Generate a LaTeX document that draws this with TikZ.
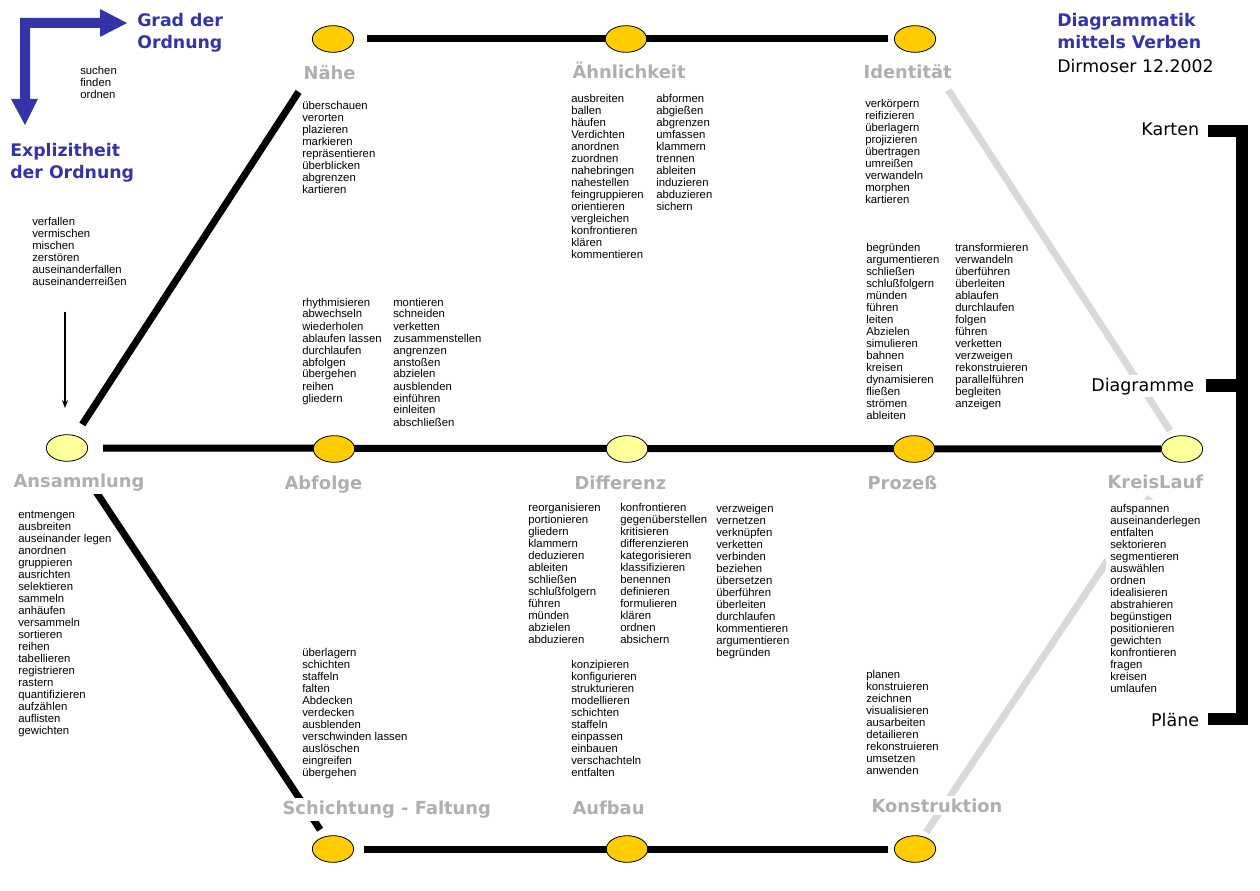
\documentclass[tikz,border=0pt]{standalone}
\usepackage{fontspec}
\setmainfont{Liberation Sans}
\newfontfamily\vfont{DejaVu Sans}
\usetikzlibrary{shapes.geometric,arrows.meta}
\pgfdeclarelayer{background}
\pgfsetlayers{background,main}
\definecolor{dblue}{RGB}{51,51,170}
\definecolor{lgray}{RGB}{175,175,175}
\definecolor{lngray}{RGB}{217,217,217}
\definecolor{gold}{RGB}{255,204,0}
\definecolor{paley}{RGB}{255,255,153}
\newcommand{\wl}[1]{\begin{tabular}[t]{@{}l@{}}#1\end{tabular}}
\begin{document}
\begin{tikzpicture}[x=0.75pt,y=-0.75pt,
  wlist/.style={anchor=base west, inner sep=0pt, font=\fontsize{8.5pt}{9pt}\selectfont},
  lab/.style={anchor=base west, font=\vfont\bfseries\fontsize{13.4pt}{15pt}\selectfont, text=lgray, fill=white, inner xsep=1pt, inner ysep=2pt},
  ttl/.style={anchor=base west, inner sep=0pt, font=\vfont\bfseries\fontsize{13pt}{16.5pt}\selectfont, text=dblue},
  rlab/.style={anchor=base east, inner xsep=2pt, inner ysep=2pt, fill=white, font=\vfont\fontsize{13.1pt}{15pt}\selectfont},
  stn/.style={ellipse, draw=black, line width=0.6pt, minimum width=31pt, minimum height=20pt, inner sep=0pt},
  bigline/.style={line width=5.25pt},
  grayline/.style={line width=5.25pt, draw=lngray}]
\path[use as bounding box] (0,0) rectangle (1260,891);

% stations
\node[stn,fill=gold] (nae) at (333,39) {};
\node[stn,fill=gold] (ahn) at (626,39) {};
\node[stn,fill=gold] (ide) at (915,39) {};
\node[stn,fill=paley] (ans) at (67,448) {};
\node[stn,fill=gold] (abf) at (334,449) {};
\node[stn,fill=paley] (dif) at (627,449) {};
\node[stn,fill=gold] (pro) at (914,449) {};
\node[stn,fill=paley] (kre) at (1182,449) {};
\node[stn,fill=gold] (sch) at (333,849) {};
\node[stn,fill=gold] (auf) at (627,849) {};
\node[stn,fill=gold] (kon) at (915,849) {};

% station labels
\node[lab] (lnae) at (302,80) {Nähe};
\node[lab] (lahn) at (571,79) {Ähnlichkeit};
\node[lab] (lide) at (862,79) {Identität};
\node[lab] (lans) at (12,487) {Ansammlung};
\node[lab] (labf) at (283,489) {Abfolge};
\node[lab] (ldif) at (573,489) {Differenz};
\node[lab] (lpro) at (866,489) {Prozeß};
\node[lab] (lkre) at (1106,488) {KreisLauf};
\node[lab] (lsch) at (281,814) {Schichtung - Faltung};
\node[lab] (lauf) at (571,814) {Aufbau};
\node[lab] (lkon) at (870,812) {Konstruktion};

% titles
\node[ttl] (t1) at (137,27) {\wl{Grad der\\Ordnung}};
\node[ttl] (t2) at (10,157) {\wl{Explizitheit\\der Ordnung}};
\node[ttl] (t3) at (1057,27) {\wl{Diagrammatik\\mittels Verben}};
\node[anchor=base west, inner sep=0pt, font=\vfont\fontsize{13pt}{16.5pt}\selectfont] (t4) at (1057,73) {Dirmoser 12.2002};

% blue axis arrows
\fill[dblue] (20,18) -- (100,18) -- (100,9) -- (127,23) -- (100,37) -- (100,28) -- (30,28) -- (30,99) -- (38,99) -- (25,125) -- (11,99) -- (20,99) -- cycle;

% small arrow
\coordinate (sa1) at (65,312);
\coordinate (sa2) at (65,408);
\draw[line width=0.9pt, -{Stealth[length=6pt,width=4.5pt]}] (sa1) -- (sa2);

% word lists
\node[wlist] (w0) at (80,75) {\wl{suchen\\finden\\ordnen}};
\node[wlist] (w1) at (32,226) {\wl{verfallen\\vermischen\\mischen\\zerstören\\auseinanderfallen\\auseinanderreißen}};
\node[wlist] (w2) at (302,110) {\wl{überschauen\\verorten\\plazieren\\markieren\\repräsentieren\\überblicken\\abgrenzen\\kartieren}};
\node[wlist] (w3) at (571,103) {\wl{ausbreiten\\ballen\\häufen\\Verdichten\\anordnen\\zuordnen\\nahebringen\\nahestellen\\feingruppieren\\orientieren\\vergleichen\\konfrontieren\\klären\\kommentieren}};
\node[wlist] (w4) at (656,103) {\wl{abformen\\abgießen\\abgrenzen\\umfassen\\klammern\\trennen\\ableiten\\induzieren\\abduzieren\\sichern}};
\node[wlist] (w5) at (865,108) {\wl{verkörpern\\reifizieren\\überlagern\\projizieren\\übertragen\\umreißen\\verwandeln\\morphen\\kartieren}};
\node[wlist] (w6) at (866,252) {\wl{begründen\\argumentieren\\schließen\\schlußfolgern\\münden\\führen\\leiten\\Abzielen\\simulieren\\bahnen\\kreisen\\dynamisieren\\fließen\\strömen\\ableiten}};
\node[wlist] (w7) at (955,252) {\wl{transformieren\\verwandeln\\überführen\\überleiten\\ablaufen\\durchlaufen\\folgen\\führen\\verketten\\verzweigen\\rekonstruieren\\parallelführen\\begleiten\\anzeigen}};
\node[wlist] (w8) at (302,306) {\wl{rhythmisieren\\abwechseln\\wiederholen\\ablaufen lassen\\durchlaufen\\abfolgen\\übergehen\\reihen\\gliedern}};
\node[wlist] (w9) at (393,306) {\wl{montieren\\schneiden\\verketten\\zusammenstellen\\angrenzen\\anstoßen\\abzielen\\ausblenden\\einführen\\einleiten\\abschließen}};
\node[wlist] (w10) at (18,518) {\wl{entmengen\\ausbreiten\\auseinander legen\\anordnen\\gruppieren\\ausrichten\\selektieren\\sammeln\\anhäufen\\versammeln\\sortieren\\reihen\\tabellieren\\registrieren\\rastern\\quantifizieren\\aufzählen\\auflisten\\gewichten}};
\node[wlist] (w11) at (528,511) {\wl{reorganisieren\\portionieren\\gliedern\\klammern\\deduzieren\\ableiten\\schließen\\schlußfolgern\\führen\\münden\\abzielen\\abduzieren}};
\node[wlist] (w12) at (620,511) {\wl{konfrontieren\\gegenüberstellen\\kritisieren\\differenzieren\\kategorisieren\\klassifizieren\\benennen\\definieren\\formulieren\\klären\\ordnen\\absichern}};
\node[wlist] (w13) at (716,512) {\wl{verzweigen\\vernetzen\\verknüpfen\\verketten\\verbinden\\beziehen\\übersetzen\\überführen\\überleiten\\durchlaufen\\kommentieren\\argumentieren\\begründen}};
\node[wlist] (w14) at (302,656) {\wl{überlagern\\schichten\\staffeln\\falten\\Abdecken\\verdecken\\ausblenden\\verschwinden lassen\\auslöschen\\eingreifen\\übergehen}};
\node[wlist] (w15) at (571,668) {\wl{konzipieren\\konfigurieren\\strukturieren\\modellieren\\schichten\\staffeln\\einpassen\\einbauen\\verschachteln\\entfalten}};
\node[wlist] (w16) at (866,678) {\wl{planen\\konstruieren\\zeichnen\\visualisieren\\ausarbeiten\\detailieren\\rekonstruieren\\umsetzen\\anwenden}};
\node[wlist, fill=white, inner sep=3pt] (w17) at (1106,512) {\wl{aufspannen\\auseinanderlegen\\entfalten\\sektorieren\\segmentieren\\auswählen\\ordnen\\idealisieren\\abstrahieren\\begünstigen\\positionieren\\gewichten\\konfrontieren\\fragen\\kreisen\\umlaufen}};

% bracket
\fill[black] (1236,125) rectangle (1248,725);
\fill[black] (1208,125) rectangle (1248,137);
\fill[black] (1206,379) rectangle (1240,392);
\fill[black] (1208,713) rectangle (1248,725);
\node[rlab] (rk) at (1202,136) {Karten};
\node[rlab] (rd) at (1197,391) {Diagramme};
\node[rlab] (rp) at (1202,726) {Pläne};

% connectors
\begin{pgfonlayer}{background}
\draw[bigline, shorten <=9.75pt, shorten >=4.5pt] (nae) -- (ide);
\draw[bigline, shorten <=11.25pt] (ans) -- (kre);
\draw[bigline, shorten <=7.5pt, shorten >=4.5pt] (sch) -- (kon);
\draw[bigline, shorten <=9.75pt, shorten >=36pt] (ans) -- (nae);
\draw[bigline, shorten <=28.5pt, shorten >=6pt] (ans) -- (sch);
\draw[grayline, shorten <=34.5pt, shorten >=5.25pt] (ide) -- (kre);
\draw[grayline, shorten <=32pt, shorten >=3.75pt] (kre) -- (kon);
\end{pgfonlayer}
\end{tikzpicture}
\end{document}
